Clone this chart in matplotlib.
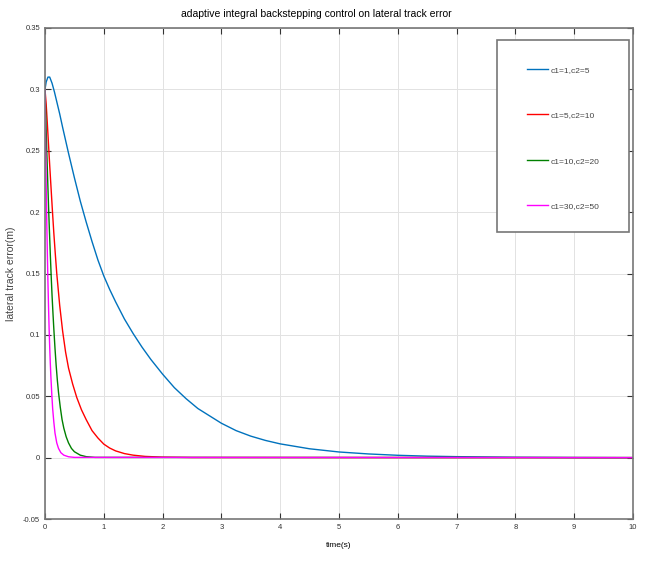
import matplotlib
matplotlib.use("Agg")
import matplotlib.pyplot as plt
from matplotlib.patches import Rectangle
from matplotlib.ticker import FuncFormatter

plt.rcParams['font.family'] = ['Liberation Sans', 'DejaVu Sans']

# values
t_blue = [0, 0.02, 0.05, 0.08, 0.12, 0.16, 0.2, 0.25, 0.3, 0.4, 0.5, 0.6, 0.7,
          0.8, 0.9, 1.0, 1.1, 1.2, 1.35, 1.5, 1.65, 1.8, 2.0, 2.2, 2.4, 2.6,
          2.8, 3.0, 3.25, 3.5, 3.75, 4.0, 4.5, 5.0, 5.5, 6.0, 6.5, 7.0, 8.0,
          9.0, 10.0]
e_blue = [0.300, 0.306, 0.310, 0.310, 0.305, 0.298, 0.290, 0.280, 0.269, 0.248,
          0.228, 0.209, 0.192, 0.176, 0.161, 0.148, 0.137, 0.127, 0.113, 0.101,
          0.090, 0.080, 0.068, 0.057, 0.048, 0.040, 0.034, 0.028, 0.022, 0.0175,
          0.014, 0.0112, 0.0072, 0.0046, 0.0030, 0.0019, 0.0012, 0.0008, 0.0003,
          0.0001, 0.0]

t_red = [0, 0.02, 0.04, 0.06, 0.08, 0.1, 0.125, 0.15, 0.175, 0.2, 0.25, 0.3,
         0.35, 0.4, 0.47, 0.54, 0.62, 0.7, 0.8, 0.9, 1.0, 1.1, 1.2, 1.35, 1.5,
         1.7, 2.0, 2.5, 10.0]
e_red = [0.300, 0.288, 0.272, 0.255, 0.238, 0.222, 0.202, 0.183, 0.166, 0.150,
         0.124, 0.103, 0.086, 0.073, 0.060, 0.049, 0.039, 0.031, 0.022, 0.016,
         0.011, 0.0078, 0.0055, 0.0033, 0.0020, 0.0010, 0.0004, 0.0001, 0.0]

t_green = [0, 0.015, 0.03, 0.045, 0.06, 0.075, 0.09, 0.105, 0.12, 0.135, 0.15,
           0.17, 0.19, 0.21, 0.23, 0.26, 0.29, 0.32, 0.36, 0.4, 0.45, 0.5, 0.6,
           0.7, 0.85, 10.0]
e_green = [0.300, 0.275, 0.250, 0.227, 0.205, 0.185, 0.166, 0.148, 0.132, 0.118,
           0.105, 0.089, 0.075, 0.063, 0.053, 0.041, 0.031, 0.024, 0.017, 0.012,
           0.0075, 0.0048, 0.0020, 0.0008, 0.0002, 0.0]

t_mag = [0, 0.01, 0.02, 0.03, 0.04, 0.05, 0.06, 0.07, 0.08, 0.09, 0.1, 0.115,
         0.13, 0.15, 0.17, 0.2, 0.23, 0.27, 0.32, 0.4, 0.5, 10.0]
e_mag = [0.300, 0.258, 0.222, 0.192, 0.166, 0.143, 0.123, 0.105, 0.090, 0.077,
         0.066, 0.052, 0.040, 0.029, 0.020, 0.012, 0.0075, 0.0040, 0.0020,
         0.0007, 0.0002, 0.0]

labels = ['c1=1,c2=5', 'c1=5,c2=10', 'c1=10,c2=20', 'c1=30,c2=50']
colors = ['#0072BD', '#FF0000', '#008000', '#FF00FF']

fig = plt.figure(figsize=(6.45, 5.66), dpi=100)
ax = fig.add_axes([45 / 645, 47 / 566, 588 / 645, 491 / 566])

series = [(t_blue, e_blue), (t_red, e_red), (t_green, e_green), (t_mag, e_mag)]
for (t, e), lab, c in zip(series, labels, colors):
    ax.plot(t, e, color=c, lw=1.0, label=lab)

ax.set_xlim(0, 10)
ax.set_ylim(-0.05, 0.35)
ax.set_xticks(range(0, 11))
ax.set_yticks([-0.05, 0, 0.05, 0.1, 0.15, 0.2, 0.25, 0.3, 0.35])
ax.yaxis.set_major_formatter(FuncFormatter(lambda v, p: '%g' % round(v, 2)))
ax.grid(True, color='#e2e2e2', lw=0.7)
ax.tick_params(direction='in', top=True, right=True, labelsize=5.5,
               colors='#333333', length=4, width=0.8)
for s in ax.spines.values():
    s.set_color('#777777')
    s.set_linewidth(1.2)

ax.set_title('adaptive integral backstepping control on lateral track error',
             fontsize=7.5, pad=8, x=0.461)
ax.set_xlabel('time(s)', fontsize=6, labelpad=8)
ax.set_ylabel('lateral track error(m)', fontsize=7.5, color='#444444')
ax.yaxis.set_label_coords(-0.05, 0.5)

# legend: box drawn separately, entries spread out like the original
ax.add_patch(Rectangle((0.769, 0.585), 0.224, 0.391, transform=ax.transAxes,
                       facecolor='white', edgecolor='#777777', lw=1.2, zorder=5))
leg = ax.legend(loc='center', bbox_to_anchor=(0.881, 0.776), frameon=False,
                fontsize=6, labelspacing=4.5, handlelength=2.6, handletextpad=0.3)
leg.set_zorder(6)
for txt in leg.get_texts():
    txt.set_color('#444444')

fig.savefig('out.png', dpi=100)
